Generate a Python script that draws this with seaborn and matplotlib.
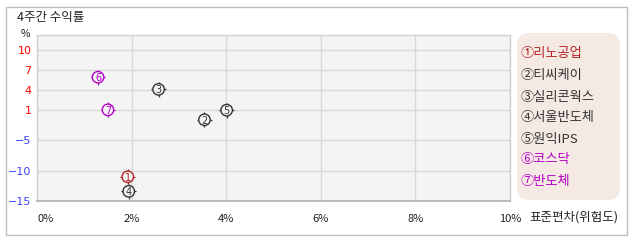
import numpy as np
import pandas as pd
import matplotlib
matplotlib.use("Agg")
import matplotlib.pyplot as plt
from matplotlib.patches import FancyBboxPatch, Rectangle
import seaborn as sns

# ---- data ----
names = ['리노공업', '티씨케이', '실리콘웍스', '서울반도체', '원익IPS', '코스닥', '반도체']
risk = [1.92, 3.54, 2.57, 1.94, 4.01, 1.29, 1.50]      # 표준편차 (%)
ret = [-11.0, -0.9, 4.1, -13.4, 1.0, 5.9, 1.05]          # 4주간 수익률 (%)
colors = ['#b22222', '#333333', '#333333', '#333333', '#333333', '#b400c8', '#b400c8']
circled = ['①', '②', '③', '④', '⑤', '⑥', '⑦']
yticks = [-15, -10, -5, 1, 4, 7, 10]
xticks = [0, 2, 4, 6, 8, 10]
xticklabels = ['0%', '2%', '4%', '6%', '8%', '10%']

sns.set_theme(style='white')
FONT = ['Noto Sans CJK KR', 'DejaVu Sans']
plt.rcParams['font.family'] = FONT

df = pd.DataFrame({'name': names, 'risk': risk, 'ret': ret})
pal = dict(zip(names, colors))

fig = plt.figure(figsize=(6.38, 2.42), dpi=100)
W, H = 638, 242

# outer frame
fig.patches.append(Rectangle((6 / W, 7 / H), (627 - 6) / W, (235 - 7) / H,
                             transform=fig.transFigure, fill=False,
                             edgecolor='#bdbdbd', linewidth=1.0))

ax = fig.add_axes([37 / W, (H - 201) / H, (510 - 37) / W, (201 - 34.5) / H])
ax.set_facecolor('#f4f4f4')

# piecewise-linear y scale
kv = np.array([-100, -15, -10, -5, 1, 4, 7, 10, 100], dtype=float)
kp = np.array([-25.5, 0, 1.5, 3, 4.5, 5.5, 6.5, 7.5, 37.5])
fwd = lambda v: np.interp(v, kv, kp)
inv = lambda p: np.interp(p, kp, kv)
ax.set_yscale('function', functions=(fwd, inv))

sns.scatterplot(data=df, x='risk', y='ret', hue='name', palette=pal, marker='+',
                s=115, linewidth=0.9, legend=False, ax=ax, zorder=3)
sns.scatterplot(data=df, x='risk', y='ret', hue='name', palette=pal, marker='o',
                s=68, legend=False, ax=ax, zorder=4)
coll = ax.collections[-1]
coll.set_facecolor('#f4f4f4')
coll.set_edgecolor(colors)
coll.set_linewidth(1.0)
for i, (xx, yy) in enumerate(zip(risk, ret)):
    ax.text(xx, yy, str(i + 1), ha='center', va='center_baseline', fontsize=7,
            color=colors[i], zorder=5, family=['DejaVu Sans'])

ax.set_xlim(0, 10)
ax.set_ylim(-15, 12.25)
ax.set_xticks(xticks)
ax.set_xticklabels(xticklabels)
ax.set_yticks(yticks)
ax.set_yticklabels([str(v).replace('-', '\u2212') for v in yticks])
ax.minorticks_off()
ax.yaxis.set_minor_locator(matplotlib.ticker.NullLocator())
for lab, v in zip(ax.get_yticklabels(), yticks):
    lab.set_color('#ff0000' if v > 0 else '#4040ff')
    lab.set_fontsize(8)
    lab.set_family(['DejaVu Sans'])
for lab in ax.get_xticklabels():
    lab.set_fontsize(8)
    lab.set_color('#222222')
ax.get_xticklabels()[0].set_ha('left')
ax.tick_params(axis='y', length=0, pad=4)
ax.tick_params(axis='x', length=0, pad=9)
ax.grid(True, color='#d9d9d9', linewidth=1.0)
ax.set_axisbelow(True)
ax.set_xlabel('')
ax.set_ylabel('')
for s in ['top', 'right', 'left']:
    ax.spines[s].set_color('#d0d0d0')
    ax.spines[s].set_linewidth(1.0)
ax.spines['bottom'].set_color('#b0b0b0')
ax.spines['bottom'].set_linewidth(1.2)

fig.text(17 / W, 1 - 18 / H, '4주간 수익률', fontsize=9, color='#222222',
         va='center', ha='left')
fig.text(25 / W, 1 - 34 / H, '%', fontsize=7.5, color='#222222', va='center', ha='center')
fig.text(529 / W, 1 - 217 / H, '표준편차(위험도)', fontsize=9, color='#222222',
         va='center', ha='left')

# legend box
fig.patches.append(FancyBboxPatch((517 / W, (H - 200) / H), (620 - 517) / W, (200 - 33) / H,
                                  boxstyle='round,pad=0,rounding_size=0.02',
                                  transform=fig.transFigure, facecolor='#f5e9e3',
                                  edgecolor='none', mutation_aspect=W / H))
rows = [54, 75, 97, 118, 139, 160, 182]
for i, (nm, yy) in enumerate(zip(names, rows)):
    fig.text(521 / W, 1 - yy / H, circled[i] + nm, fontsize=9.5, color=colors[i],
             va='center', ha='left')

fig.savefig('out.png', dpi=100)
